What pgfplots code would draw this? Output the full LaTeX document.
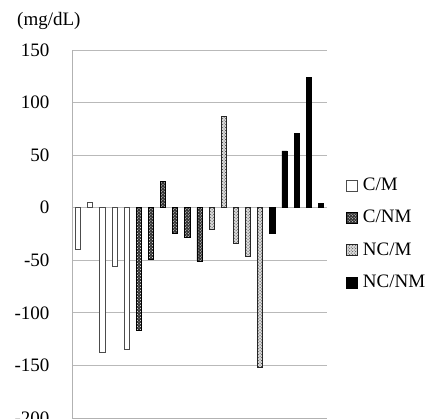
\documentclass[border=0pt]{standalone}
\usepackage{fontspec}
\setmainfont{Liberation Serif}
\usepackage{pgfplots}
\pgfplotsset{compat=1.18}
\usetikzlibrary{patterns}
\begin{document}
\fontsize{19bp}{22bp}\selectfont
\begin{tikzpicture}
\useasboundingbox (-72bp,-1bp) rectangle (356bp,418bp);
\begin{axis}[
  at={(0,0)}, anchor=south west, scale only axis,
  width=255bp, height=368bp,
  xmin=-0.5, xmax=20.5, ymin=-200, ymax=150,
  clip=false,
  xtick=\empty,
  ytick={-200,-150,-100,-50,0,50,100,150},
  yticklabels={-200,-150,-100,-50,0,50,100,150},
  ymajorgrids, grid style={draw=gray!55, line width=0.8bp},
  axis lines*=left, axis line style={-, draw=gray!60, line width=0.8bp},
  major tick length=0pt,
  yticklabel style={anchor=east, xshift=-16bp, font=\fontsize{19bp}{22bp}\selectfont},
  ybar, bar width=0.42,
  legend image code/.code={\draw[#1] (0bp,-5.5bp) rectangle (11bp,5.5bp);},
  legend style={at={(1,0.5)}, anchor=west, xshift=19bp, draw=none, fill=none,
    inner sep=0pt, row sep=13bp, font=\fontsize{19bp}{22bp}\selectfont,
    /tikz/every odd column/.append style={column sep=3bp}},
  legend cell align=left,
]
\addplot[bar shift=0pt, draw=black!70, line width=0.7bp, fill=white]
  coordinates {(0,-40) (1,5) (2,-138) (3,-56) (4,-135)};
\addlegendentry{C/M}
\addplot[bar shift=0pt, draw=black, line width=0.7bp, fill=black!80,
  postaction={pattern=crosshatch dots, pattern color=white}]
  coordinates {(5,-117) (6,-49) (7,25) (8,-24) (9,-28) (10,-51)};
\addlegendentry{C/NM}
\addplot[bar shift=0pt, draw=black!85, line width=0.7bp, fill=black!15,
  postaction={pattern=crosshatch dots, pattern color=black!80}]
  coordinates {(11,-21) (12,87) (13,-34) (14,-46) (15,-152)};
\addlegendentry{NC/M}
\addplot[bar shift=0pt, draw=black, line width=0.7bp, fill=black]
  coordinates {(16,-24) (17,54) (18,71) (19,124) (20,4)};
\addlegendentry{NC/NM}
\node[anchor=base west, font=\fontsize{19bp}{22bp}\selectfont, inner sep=0pt]
  at ([xshift=-55bp,yshift=24bp]axis description cs:0,1) {(mg/dL)};
\end{axis}
\end{tikzpicture}
\end{document}
